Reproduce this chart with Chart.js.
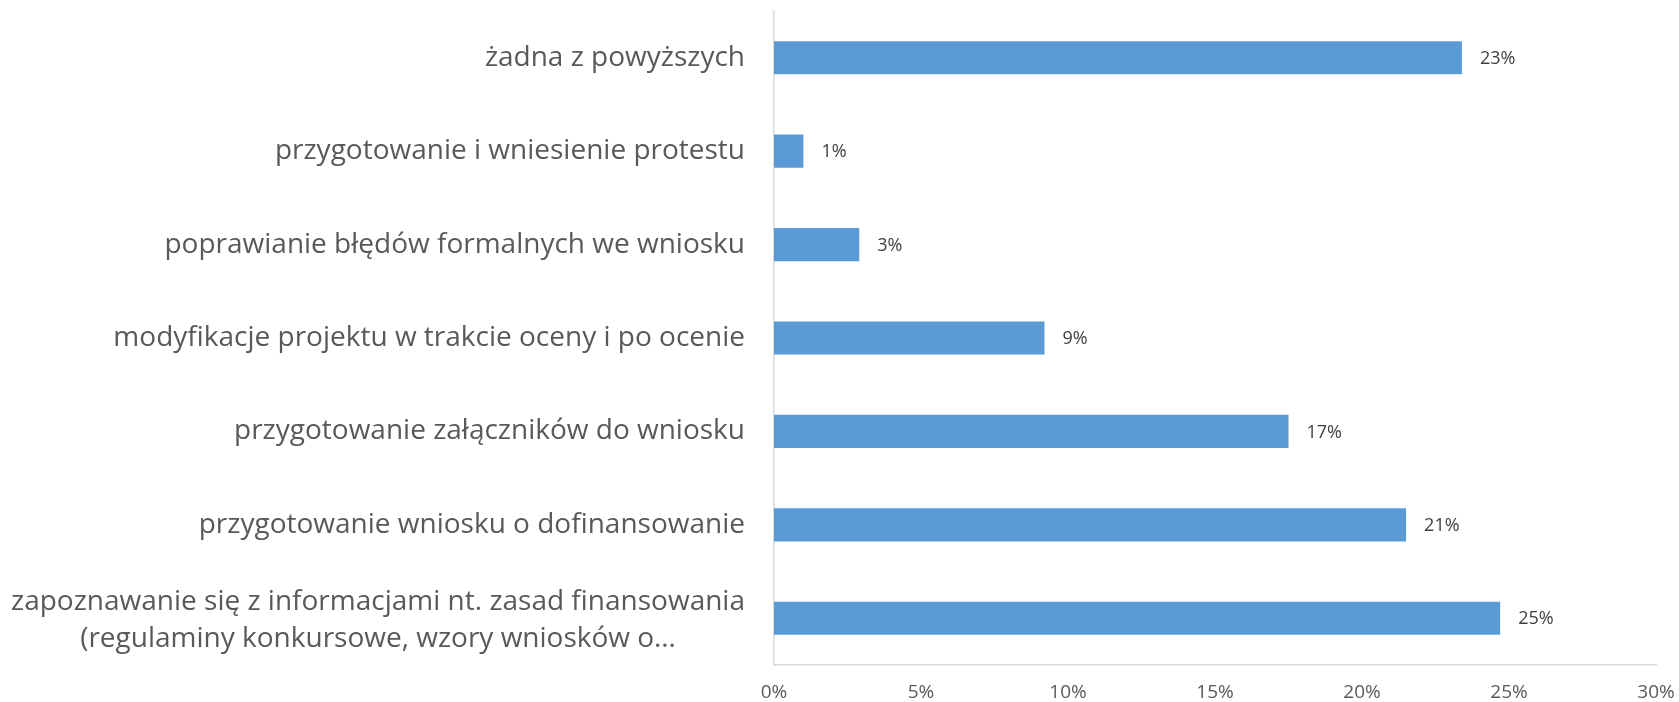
<!DOCTYPE html>
<html>
<head>
<meta charset="utf-8">
<script src="https://cdn.jsdelivr.net/npm/chart.js@4/dist/chart.umd.min.js"></script>
<style>
  html, body { margin: 0; padding: 0; background: #ffffff; }
  #wrap { width: 1679px; height: 702px; position: relative; }
</style>
</head>
<body>
<div id="wrap"><canvas id="c" width="1679" height="702"></canvas></div>
<script>
const categories = [
  'żadna z powyższych',
  'przygotowanie i wniesienie protestu',
  'poprawianie błędów formalnych we wniosku',
  'modyfikacje projektu w trakcie oceny i po ocenie',
  'przygotowanie załączników do wniosku',
  'przygotowanie wniosku o dofinansowanie',
  ['zapoznawanie się z informacjami nt. zasad finansowania', '(regulaminy konkursowe, wzory wniosków o…']
];
const values = [23.4, 1.0, 2.9, 9.2, 17.5, 21.5, 24.7];
const valueLabels = ['23%', '1%', '3%', '9%', '17%', '21%', '25%'];
const xTicks = [0, 5, 10, 15, 20, 25, 30];

const FONT = "'Open Sans', 'Noto Sans', sans-serif";

const labelPlugin = {
  id: 'labelPlugin',
  afterDraw(chart) {
    const ctx = chart.ctx;
    const yScale = chart.scales.y;
    const meta = chart.getDatasetMeta(0);
    ctx.save();
    // category labels
    ctx.font = '28px ' + FONT;
    ctx.fillStyle = '#595959';
    ctx.textBaseline = 'middle';
    const rightEdge = chart.chartArea.left - 29;
    categories.forEach((lab, i) => {
      const py = yScale.getPixelForValue(i);
      const lines = Array.isArray(lab) ? lab : [lab];
      const lh = 37.5;
      const maxW = Math.max(...lines.map(l => ctx.measureText(l).width));
      const cx = rightEdge - maxW / 2;
      ctx.textAlign = 'center';
      lines.forEach((l, k) => {
        const ly = py + 2 + (k - (lines.length - 1) / 2) * lh;
        ctx.fillText(l, cx, lines.length > 1 ? ly : py);
      });
    });
    // value labels
    ctx.font = '18px ' + FONT;
    ctx.fillStyle = '#404040';
    ctx.textAlign = 'left';
    meta.data.forEach((bar, i) => {
      ctx.fillText(valueLabels[i], bar.x + 18, bar.y + 1);
    });
    ctx.restore();
  }
};

new Chart(document.getElementById('c'), {
  type: 'bar',
  data: {
    labels: categories,
    datasets: [{
      data: values,
      backgroundColor: '#5B9BD5',
      borderWidth: 0,
      barPercentage: 0.355,
      categoryPercentage: 1.0
    }]
  },
  options: {
    indexAxis: 'y',
    responsive: false,
    animation: false,
    devicePixelRatio: 1,
    layout: { padding: { top: 11, right: 23, left: 0, bottom: 0 } },
    plugins: { legend: { display: false }, tooltip: { enabled: false } },
    scales: {
      x: {
        type: 'linear',
        min: 0,
        max: 30,
        afterBuildTicks(scale) { scale.ticks = xTicks.map(v => ({ value: v })); },
        afterFit(scale) { scale.height = 37; scale.paddingLeft = 0; scale.paddingRight = 0; },
        grid: { display: false, drawTicks: false },
        border: { display: true, color: '#d9d9d9', width: 1.5 },
        ticks: {
          padding: 16,
          color: '#595959',
          font: { family: FONT, size: 19 },
          callback: v => v + '%'
        }
      },
      y: {
        afterFit(scale) { scale.width = 774; scale.paddingTop = 0; scale.paddingBottom = 0; },
        grid: { display: false, drawTicks: false },
        border: { display: true, color: '#d9d9d9', width: 1.5 },
        ticks: { display: false }
      }
    }
  },
  plugins: [labelPlugin]
});
</script>
</body>
</html>
